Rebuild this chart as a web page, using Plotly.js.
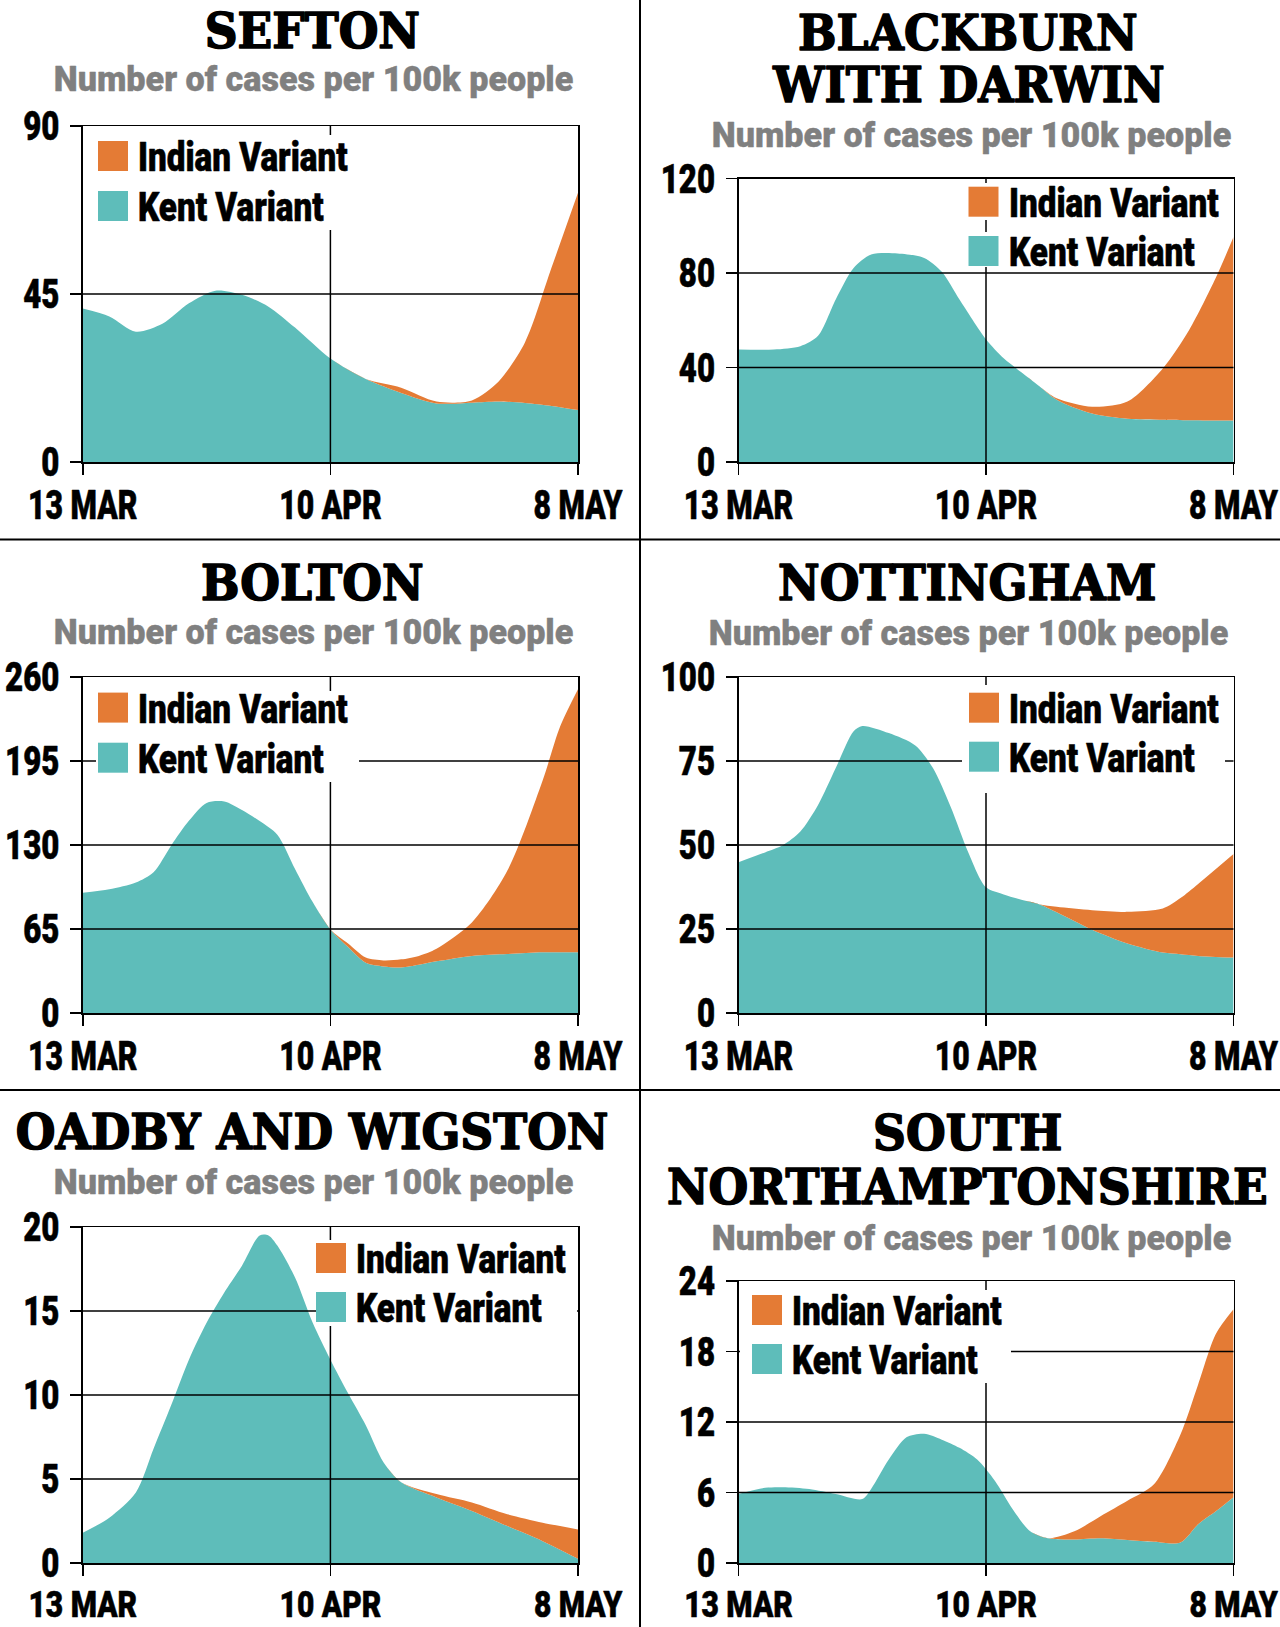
<!DOCTYPE html>
<html>
<head>
<meta charset="utf-8">
<script src="https://cdn.plot.ly/plotly-3.0.1.min.js"></script>
<style>
  html, body { margin: 0; padding: 0; background: #ffffff; }
  #chart { width: 1280px; height: 1627px; }
</style>
</head>
<body>
<div id="chart"></div>
<script>
// ---------------- DATA ----------------
const TICK_DAYS = [0, 28, 56];               // days after 13 March
const TICK_TEXT = ['13 MAR', '10 APR', '8 MAY'];
const SUBTITLE = 'Number of cases per 100k people';
const SERIES_NAMES = ['Indian Variant', 'Kent Variant'];
const CHART_TITLES = [
  ['SEFTON'],
  ['BLACKBURN', 'WITH DARWIN'],
  ['BOLTON'],
  ['NOTTINGHAM'],
  ['OADBY AND WIGSTON'],
  ['SOUTH', 'NORTHAMPTONSHIRE']
];

const SEFTON_DAYS   = [0, 3, 6, 9, 12, 15, 18, 21, 24, 28, 32, 36, 40, 44, 47, 50, 53, 56];
const SEFTON_KENT   = [41.1, 39, 34.9, 37, 42.5, 45.9, 44.8, 41.6, 36, 27.7, 22.2, 18.5, 15.7, 15.9, 16.2, 15.8, 15, 13.9];
const SEFTON_INDIAN = [0, 0, 0, 0, 0, 0, 0, 0, 0, 0, 0, 1.4, 0.5, 0.6, 5.3, 16.2, 37, 58.2];
const SEFTON_YTICKS = [0, 45, 90];

const BLACKBURN_DAYS   = [0, 4, 7, 9, 11, 13, 15, 18, 21, 23, 25, 28, 30, 32, 34, 36, 40, 44, 48, 51, 54, 56];
const BLACKBURN_KENT   = [47.6, 47.6, 49, 53.4, 68.8, 82, 87.8, 88.3, 86.4, 80.5, 68.8, 52, 43.9, 38, 32.2, 26.4, 20.5, 18.3, 17.9, 17.7, 17.6, 17.6];
const BLACKBURN_INDIAN = [0, 0, 0, 0, 0, 0, 0, 0, 0, 0, 0, 0, 0, 0, 0, 0.6, 2.9, 7.3, 21.7, 38.3, 60.4, 77.6];
const BLACKBURN_YTICKS = [0, 40, 80, 120];

const BOLTON_DAYS   = [0, 3, 6, 8, 10, 12, 14, 16, 18, 20, 22, 24, 26, 28, 30, 32, 34, 36, 38, 40, 44, 48, 52, 54, 56];
const BOLTON_KENT   = [93, 95.8, 101, 109, 129.7, 148.7, 162.5, 163.6, 157, 148.5, 138, 111.5, 85.8, 64.6, 51, 38.8, 36, 35.3, 37.4, 40, 44.2, 45.6, 47, 47, 47];
const BOLTON_INDIAN = [0, 0, 0, 0, 0, 0, 0, 0, 0, 0, 0, 0, 0, 0, 2.7, 4.1, 4.7, 6.2, 6.8, 9.7, 25.8, 64.4, 133, 175, 203.5];
const BOLTON_YTICKS = [0, 65, 130, 195, 260];

const NOTTINGHAM_DAYS   = [0, 3, 5, 7, 9, 11, 13, 14, 17, 20, 22, 24, 26, 28, 30, 32, 34, 36, 40, 44, 48, 50, 52, 56];
const NOTTINGHAM_KENT   = [44.9, 47.8, 49.9, 54, 61.9, 72.9, 83.8, 85.4, 83.3, 79.6, 72.9, 61.4, 47.8, 37.4, 35.3, 33.7, 32.4, 30, 24.8, 20.7, 18, 17.5, 17, 16.5];
const NOTTINGHAM_INDIAN = [0, 0, 0, 0, 0, 0, 0, 0, 0, 0, 0, 0, 0, 0, 0, 0, 0, 1.6, 5.8, 9.4, 13.1, 16.7, 21.4, 30.8];
const NOTTINGHAM_YTICKS = [0, 25, 50, 75, 100];

const OADBY_DAYS   = [0, 3, 6, 8, 10, 12, 14, 16, 18, 20, 21, 22, 24, 26, 28, 30, 32, 34, 36, 40, 44, 48, 52, 56];
const OADBY_KENT   = [1.8, 2.7, 4.2, 6.8, 9.4, 12.1, 14.3, 16.1, 17.7, 19.5, 19.5, 18.9, 17.0, 14.3, 12.1, 10.1, 8.2, 6.0, 4.8, 3.9, 3.1, 2.2, 1.3, 0.25];
const OADBY_INDIAN = [0, 0, 0, 0, 0, 0, 0, 0, 0, 0, 0, 0, 0, 0, 0, 0, 0, 0, 0, 0.2, 0.5, 0.7, 1.1, 1.75];
const OADBY_YTICKS = [0, 5, 10, 15, 20];

const SOUTHNORTHANTS_DAYS   = [0, 3, 5, 8, 11, 14, 15, 17, 19, 21, 23, 25, 27, 29, 31, 33, 35, 38, 41, 44, 47, 50, 52, 54, 56];
const SOUTHNORTHANTS_KENT   = [5.87, 6.4, 6.45, 6.3, 5.87, 5.44, 6.3, 8.8, 10.7, 11, 10.5, 9.8, 8.8, 7.0, 4.6, 2.7, 2.1, 2.0, 2.1, 1.95, 1.8, 1.74, 3.3, 4.4, 5.6];
const SOUTHNORTHANTS_INDIAN = [0, 0, 0, 0, 0, 0, 0, 0, 0, 0, 0, 0, 0, 0, 0, 0, 0, 0.7, 1.9, 3.35, 4.9, 9.2, 11.9, 15.1, 16.0];
const SOUTHNORTHANTS_YTICKS = [0, 6, 12, 18, 24];

const CHARTS = [
  { days: SEFTON_DAYS, kent: SEFTON_KENT, indian: SEFTON_INDIAN, yticks: SEFTON_YTICKS },
  { days: BLACKBURN_DAYS, kent: BLACKBURN_KENT, indian: BLACKBURN_INDIAN, yticks: BLACKBURN_YTICKS },
  { days: BOLTON_DAYS, kent: BOLTON_KENT, indian: BOLTON_INDIAN, yticks: BOLTON_YTICKS },
  { days: NOTTINGHAM_DAYS, kent: NOTTINGHAM_KENT, indian: NOTTINGHAM_INDIAN, yticks: NOTTINGHAM_YTICKS },
  { days: OADBY_DAYS, kent: OADBY_KENT, indian: OADBY_INDIAN, yticks: OADBY_YTICKS },
  { days: SOUTHNORTHANTS_DAYS, kent: SOUTHNORTHANTS_KENT, indian: SOUTHNORTHANTS_INDIAN, yticks: SOUTHNORTHANTS_YTICKS }
];

// ---------------- STYLE / GEOMETRY (pixels) ----------------
const W = 1280, H = 1627;
const TEAL = '#5ebdba', ORANGE = '#e47b35', GREY = '#808080';
const PLOT_BOX = [
  { x0: 82.8, x1: 578, top: 126, bottom: 462, xStand: -4, xSize: 40.5 },
  { x0: 738.5, x1: 1233.5, top: 178.5, bottom: 462, xStand: -4, xSize: 40.5 },
  { x0: 82.8, x1: 578, top: 677, bottom: 1013, xStand: -4, xSize: 40.5 },
  { x0: 738.5, x1: 1233.5, top: 677, bottom: 1013, xStand: -4, xSize: 40.5 },
  { x0: 82.8, x1: 578, top: 1227, bottom: 1563, xStand: -3, xSize: 37 },
  { x0: 738.5, x1: 1233.5, top: 1281, bottom: 1563, xStand: -3, xSize: 37 }
];
const TITLE_POS = [
  { x: 312, lines: [31], subX: 313, subY: 80 },
  { x: 968, lines: [33, 85], subX: 971, subY: 136 },
  { x: 312, lines: [583], subX: 313, subY: 632 },
  { x: 967, lines: [583], subX: 968, subY: 633 },
  { x: 312, lines: [1132], subX: 313, subY: 1182 },
  { x: 967, lines: [1133, 1187], subX: 971, subY: 1238 }
];
const LEGEND_POS = [
  { sw: 98, tops: [141, 191], text: 136, bg: [[93, 135, 362, 230]] },
  { sw: 968.5, tops: [186.7, 236], text: 1007, bg: [[962, 183, 1222, 220], [962, 232, 1198, 267]] },
  { sw: 98, tops: [692.6, 742.7], text: 136, bg: [[96, 691, 359, 782]] },
  { sw: 969, tops: [692.7, 741.7], text: 1007, bg: [[962, 685, 1225, 793]] },
  { sw: 316, tops: [1243, 1292], text: 354, bg: [[317, 1240, 577, 1326]] },
  { sw: 752, tops: [1295, 1344], text: 790, bg: [[740, 1290, 1011, 1383]] }
];
const SW = 30;
const YTICK_FONT = { family: 'Roboto', size: 40, weight: 900, color: '#000' };
const LEGEND_FONT = { family: 'Roboto', size: 41, weight: 900, color: '#000' };
const SUB_FONT = { family: 'Roboto', size: 35, weight: 900, color: GREY };
const TITLE_FONT = { family: 'DejaVu Serif', size: 48, weight: 700, color: '#000' };
// horizontal condensing + stroke thickening per font size (to mimic the heavy display faces)
const TEXT_TWEAK = {
  '40.5': { s: 0.745, stroke: 0.6 },
  '37.0': { s: 0.81, stroke: 0.6 },
  '40.0': { s: 0.78, stroke: 0.6 },
  '41.0': { s: 0.81, stroke: 0.6 },
  '35.0': { s: 0.975, stroke: 0.4 },
  '48.0': { s: 0.95, stroke: 1.6 }
};

const px = x => x / W;
const py = y => 1 - y / H;

const data = [];
const shapes = [];
const annotations = [];
const layout = {
  width: W, height: H,
  margin: { l: 0, r: 0, t: 0, b: 0 },
  paper_bgcolor: '#ffffff',
  plot_bgcolor: 'rgba(0,0,0,0)',
  showlegend: false,
  font: { family: 'Roboto', weight: 700, color: '#000' }
};

const axisCommon = {
  showline: true, mirror: true, linecolor: '#000', linewidth: 1.5,
  ticks: 'outside', ticklen: 11, tickwidth: 1.5, tickcolor: '#000',
  showgrid: false, zeroline: false, fixedrange: true, layer: 'above traces',
  ticklabeloverflow: 'allow'
};

CHARTS.forEach((c, i) => {
  const n = i + 1;
  const sfx = n === 1 ? '' : String(n);
  const xa = 'x' + sfx, ya = 'y' + sfx;
  const g = PLOT_BOX[i];
  const ymax = c.yticks[c.yticks.length - 1];

  data.push({
    type: 'scatter', mode: 'lines', x: c.days, y: c.kent, xaxis: xa, yaxis: ya,
    stackgroup: 'stack' + n, name: SERIES_NAMES[1],
    line: { width: 0, shape: 'spline', smoothing: 0.8, color: TEAL },
    fillcolor: TEAL, hoverinfo: 'skip'
  });
  data.push({
    type: 'scatter', mode: 'lines', x: c.days, y: c.indian, xaxis: xa, yaxis: ya,
    stackgroup: 'stack' + n, name: SERIES_NAMES[0],
    line: { width: 0, shape: 'spline', smoothing: 0.8, color: ORANGE },
    fillcolor: ORANGE, hoverinfo: 'skip'
  });

  layout['xaxis' + sfx] = Object.assign({}, axisCommon, {
    domain: [px(g.x0), px(g.x1)], anchor: ya, range: [TICK_DAYS[0], TICK_DAYS[2]],
    tickmode: 'array', tickvals: TICK_DAYS, ticktext: TICK_TEXT, ticklabelstandoff: g.xStand,
    tickfont: { family: 'Roboto', size: g.xSize, weight: 900, color: '#000' }
  });
  layout['yaxis' + sfx] = Object.assign({}, axisCommon, {
    domain: [py(g.bottom), py(g.top)], anchor: xa, range: [0, ymax],
    tickmode: 'array', tickvals: c.yticks, ticktext: c.yticks.map(String), ticklabelstandoff: 3,
    tickfont: YTICK_FONT
  });

  // gridlines drawn above the areas
  c.yticks.slice(1, -1).forEach(v => {
    shapes.push({ type: 'line', layer: 'above', xref: xa + ' domain', x0: 0, x1: 1, yref: ya, y0: v, y1: v,
      line: { color: '#000', width: 1.5 } });
  });
  shapes.push({ type: 'line', layer: 'above', xref: xa, x0: TICK_DAYS[1], x1: TICK_DAYS[1], yref: ya + ' domain', y0: 0, y1: 1,
    line: { color: '#000', width: 1.5 } });

  // legend (white backing, swatches, labels)
  const L = LEGEND_POS[i];
  L.bg.forEach(b => shapes.push({ type: 'rect', layer: 'above', xref: 'paper', yref: 'paper',
    x0: px(b[0]), x1: px(b[2]), y0: py(b[3]), y1: py(b[1]), fillcolor: '#ffffff', line: { width: 0 } }));
  [ORANGE, TEAL].forEach((col, k) => {
    shapes.push({ type: 'rect', layer: 'above', xref: 'paper', yref: 'paper',
      x0: px(L.sw), x1: px(L.sw + SW), y0: py(L.tops[k] + SW), y1: py(L.tops[k]), fillcolor: col, line: { width: 0 } });
    annotations.push({ xref: 'paper', yref: 'paper', x: px(L.text), y: py(L.tops[k] + SW / 2 + 1),
      xanchor: 'left', yanchor: 'middle', align: 'left', showarrow: false,
      text: SERIES_NAMES[k], font: LEGEND_FONT });
  });

  // titles and subtitles
  const T = TITLE_POS[i];
  CHART_TITLES[i].forEach((t, k) => annotations.push({ xref: 'paper', yref: 'paper', x: px(T.x), y: py(T.lines[k]),
    xanchor: 'center', yanchor: 'middle', showarrow: false, text: t, font: TITLE_FONT }));
  annotations.push({ xref: 'paper', yref: 'paper', x: px(T.subX), y: py(T.subY),
    xanchor: 'center', yanchor: 'middle', showarrow: false, text: SUBTITLE, font: SUB_FONT });
});

// panel dividers
shapes.push({ type: 'line', layer: 'above', xref: 'paper', yref: 'paper', x0: px(640), x1: px(640), y0: 0, y1: 1, line: { color: '#000', width: 2 } });
[539.5, 1090].forEach(yy => shapes.push({ type: 'line', layer: 'above', xref: 'paper', yref: 'paper', x0: 0, x1: 1, y0: py(yy), y1: py(yy), line: { color: '#000', width: 2 } }));

layout.shapes = shapes;
layout.annotations = annotations;

function tweakText(gd) {
  gd.querySelectorAll('text').forEach(el => {
    const fs = parseFloat(el.style.fontSize || '0').toFixed(1);
    const tw = TEXT_TWEAK[fs];
    if (!tw || el.getAttribute('data-tweaked')) return;
    let bb;
    try { bb = el.getBBox(); } catch (e) { return; }
    const anchor = el.getAttribute('text-anchor') || 'start';
    let pivot = bb.x;
    if (anchor === 'middle') pivot = bb.x + bb.width / 2;
    else if (anchor === 'end') pivot = bb.x + bb.width;
    const old = el.getAttribute('transform') || '';
    el.setAttribute('transform', (old ? old + ' ' : '') +
      'translate(' + pivot + ' 0) scale(' + tw.s + ' 1) translate(' + (-pivot) + ' 0)');
    const fill = el.style.fill || '#000';
    el.style.stroke = fill;
    el.style.strokeWidth = tw.stroke + 'px';
    el.style.strokeLinejoin = 'round';
    el.setAttribute('data-tweaked', '1');
  });
}

Plotly.newPlot('chart', data, layout, { displayModeBar: false, staticPlot: true }).then(tweakText);
</script>
</body>
</html>
